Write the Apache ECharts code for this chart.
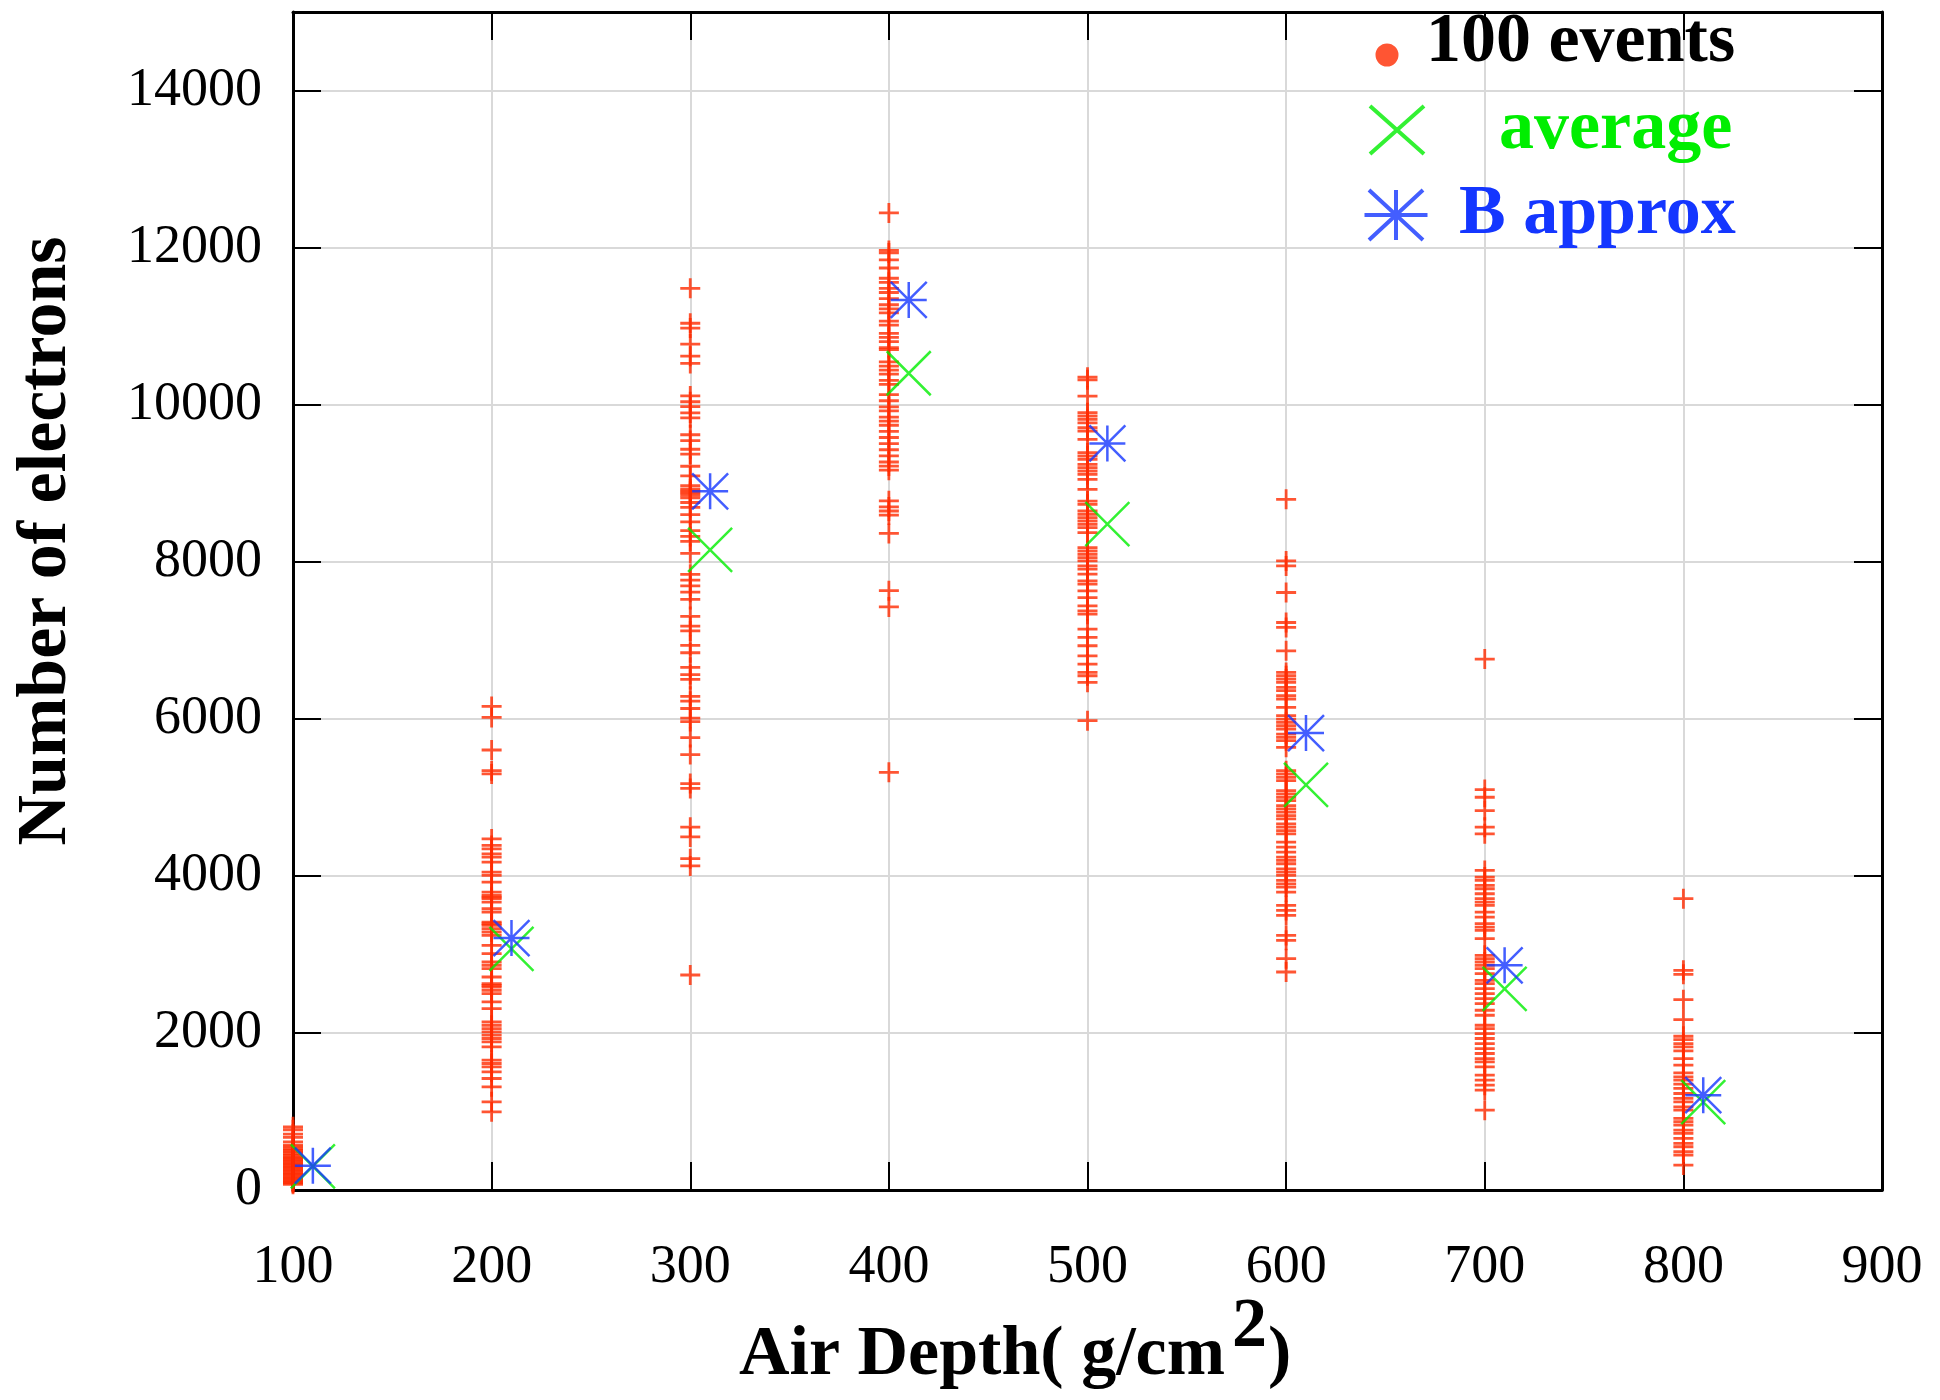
<!DOCTYPE html>
<html>
<head>
<meta charset="utf-8">
<script src="https://cdn.jsdelivr.net/npm/echarts@6/dist/echarts.min.js"></script>
<style>
  html, body { margin: 0; padding: 0; background: #fff; }
  #chart { width: 1940px; height: 1400px; }
</style>
</head>
<body>
<div id="chart"></div>
<script>
// ---------------- data ----------------
const depths = [100, 200, 300, 400, 500, 600, 700, 800];

const events100 = [805, 767, 712, 670, 614, 572, 548, 524, 505, 486, 462, 441, 420, 402, 385, 366, 348, 330, 312, 295, 276, 258, 240, 222, 205, 188, 170, 152, 135, 118, 102, 88, 72];
const events200 = [6158, 6018, 5603, 5340, 5298, 4471, 4387, 4344, 4281, 4238, 4175, 4048, 4005, 3920, 3793, 3751, 3730, 3709, 3666, 3581, 3539, 3412, 3390, 3369, 3327, 3285, 3242, 3115, 3009, 2903, 2861, 2818, 2712, 2628, 2605, 2585, 2543, 2501, 2395, 2310, 2140, 2098, 2056, 2013, 1971, 1929, 1886, 1822, 1653, 1611, 1568, 1505, 1420, 1314, 1123, 996];
const events300 = [11481, 11037, 10975, 10771, 10617, 10525, 10111, 10037, 9975, 9895, 9833, 9617, 9543, 9432, 9371, 9216, 9093, 8970, 8926, 8900, 8877, 8850, 8815, 8754, 8692, 8599, 8507, 8396, 8322, 8260, 8106, 7840, 7767, 7692, 7612, 7520, 7304, 7180, 7119, 6934, 6841, 6656, 6563, 6502, 6286, 6224, 6131, 6008, 5965, 5761, 5545, 5175, 5113, 4620, 4496, 4219, 4126, 2738];
const events400 = [12442, 11964, 11932, 11844, 11740, 11610, 11558, 11480, 11428, 11350, 11272, 11220, 11168, 11064, 11012, 10908, 10856, 10804, 10726, 10700, 10544, 10492, 10440, 10388, 10310, 10258, 10128, 10050, 9972, 9920, 9842, 9790, 9738, 9660, 9582, 9504, 9426, 9348, 9270, 9218, 9166, 8776, 8698, 8646, 8594, 8360, 7632, 7424, 5318];
const events500 = [10350, 10316, 10108, 9897, 9854, 9812, 9769, 9706, 9663, 9557, 9388, 9346, 9303, 9240, 9197, 9155, 9112, 9049, 8922, 8773, 8731, 8646, 8604, 8561, 8519, 8477, 8434, 8371, 8180, 8138, 8095, 8053, 8011, 7947, 7905, 7841, 7756, 7714, 7629, 7544, 7438, 7375, 7332, 7142, 7036, 6930, 6802, 6697, 6591, 6548, 6464, 5976];
const events600 = [8795, 8010, 7947, 7608, 7226, 7163, 6866, 6591, 6548, 6506, 6464, 6400, 6358, 6294, 6252, 6146, 6040, 5997, 5955, 5912, 5870, 5806, 5764, 5722, 5637, 5340, 5298, 5256, 5213, 5086, 5044, 5001, 4959, 4895, 4853, 4811, 4768, 4726, 4662, 4620, 4577, 4535, 4429, 4366, 4302, 4238, 4196, 4154, 4090, 4048, 4005, 3942, 3899, 3857, 3793, 3624, 3560, 3497, 3242, 3179, 2946, 2776];
const events700 = [6760, 5099, 5001, 4832, 4620, 4535, 4069, 3984, 3942, 3878, 3836, 3772, 3709, 3666, 3624, 3539, 3475, 3391, 3348, 3306, 3200, 2988, 2946, 2903, 2861, 2818, 2755, 2670, 2628, 2564, 2501, 2437, 2374, 2289, 2225, 2098, 2056, 1992, 1929, 1865, 1801, 1738, 1674, 1632, 1568, 1462, 1399, 1335, 1272, 1017];
const events800 = [3709, 2797, 2746, 2424, 2170, 1958, 1916, 1865, 1822, 1771, 1674, 1589, 1492, 1441, 1399, 1348, 1293, 1229, 1166, 1123, 1059, 1017, 911, 869, 826, 763, 721, 657, 594, 551, 487, 445, 318];
const eventsByDepth = [events100, events200, events300, events400, events500, events600, events700, events800];

const markDepths = [110, 210, 310, 410, 510, 610, 710, 810];
const averageValues = [300, 3070, 8150, 10400, 8480, 5160, 2560, 1120];
const bApproxValues = [309, 3208, 8896, 11334, 9507, 5819, 2861, 1208];

const seriesNames = ['100 events', 'average', 'B approx'];
const xAxisTitleParts = ['Air Depth( g/cm', '2', ')'];
const yAxisTitle = 'Number of electrons';

// ---------------- styling ----------------
const F = "'Liberation Serif','Times New Roman',Times,serif";
const RED = '#ff2a00', GREEN = '#00ee00', BLUE = '#1436ff';
const GRIDC = '#d9d9d9';

const PLUS = 'path://M10 0 L10 20 M0 10 L20 10';
const CROSS = 'path://M0 0 L44 44 M44 0 L0 44';
const STAR = 'path://M18 0 L18 36 M0 18 L36 18 M0 0 L36 36 M36 0 L0 36';
const DOT_LEG = 'path://M11.5 0 L11.6 0 M0 35.5 A11.5 11.5 0 1 1 23 35.5 A11.5 11.5 0 1 1 0 35.5 Z';
const CROSS_LEG = 'path://M0 0 L54 48 M54 0 L0 48';
const STAR_LEG = 'path://M31.5 0 L31.5 50 M0 25 L63 25 M4.5 0 L58.5 50 M4.5 50 L58.5 0';

const eventData = [];
depths.forEach((d, i) => eventsByDepth[i].forEach(v => eventData.push([d, v])));
const avgData = markDepths.map((d, i) => [d, averageValues[i]]);
const bData = markDepths.map((d, i) => [d, bApproxValues[i]]);

const chart = echarts.init(document.getElementById('chart'), null, { renderer: 'canvas' });

const frameAxisCommon = {
  axisLine: { show: true, onZero: false, lineStyle: { color: '#000', width: 3 } },
  axisTick: { show: true, inside: true, length: 28, lineStyle: { color: '#000', width: 2 } }
};

const titleFont = { fontFamily: F, fontWeight: 'bold', fontSize: 70, fill: '#000', align: 'left', verticalAlign: 'middle' };

const option = {
  animation: false,
  backgroundColor: '#fff',
  grid: { left: 293, right: 58, top: 12, bottom: 210, containLabel: false, outerBoundsMode: 'none' },
  graphic: [
    { type: 'text', x: 739, y: 1356, silent: true, style: Object.assign({ text: xAxisTitleParts[0] }, titleFont) },
    { type: 'text', x: 1232, y: 1328, silent: true, style: Object.assign({ text: xAxisTitleParts[1] }, titleFont) },
    { type: 'text', x: 1268, y: 1356, silent: true, style: Object.assign({ text: xAxisTitleParts[2] }, titleFont) }
  ],
  xAxis: [
    Object.assign({
      type: 'value', min: 100, max: 900, interval: 100, position: 'bottom',
      axisLabel: { margin: 51, fontFamily: F, fontSize: 54, color: '#000' },
      splitLine: { show: true, lineStyle: { color: GRIDC, width: 2 } }
    }, frameAxisCommon),
    Object.assign({
      type: 'value', min: 100, max: 900, interval: 100, position: 'top',
      axisLabel: { show: false }, splitLine: { show: false }
    }, frameAxisCommon)
  ],
  yAxis: [
    Object.assign({
      type: 'value', min: 0, max: 15000, interval: 2000, position: 'left',
      axisLabel: { margin: 31, fontFamily: F, fontSize: 54, color: '#000', showMaxLabel: false, padding: [0, 0, 12, 0],
                   formatter: v => String(v) },
      splitLine: { show: true, lineStyle: { color: GRIDC, width: 2 } },
      name: yAxisTitle, nameLocation: 'middle', nameGap: 211, nameMoveOverlap: false,
      nameTextStyle: { fontFamily: F, fontWeight: 'bold', fontSize: 70, color: '#000', padding: [0, 0, 0, 120] }
    }, frameAxisCommon),
    Object.assign({
      type: 'value', min: 0, max: 15000, interval: 2000, position: 'right',
      axisLabel: { show: false }, splitLine: { show: false }
    }, frameAxisCommon)
  ],
  legend: [
    {
      left: 1375.5, top: 8, padding: 0, orient: 'vertical', selectedMode: false,
      itemWidth: 68, itemHeight: 47,
      textStyle: { fontFamily: F, fontWeight: 'bold', fontSize: 70, color: '#000' },
      data: [{ name: seriesNames[0], icon: DOT_LEG, itemStyle: { color: RED, borderWidth: 0 } }]
    },
    {
      left: 1368, top: 95, padding: 0, orient: 'vertical', selectedMode: false,
      itemWidth: 194, itemHeight: 48,
      textStyle: { fontFamily: F, fontWeight: 'bold', fontSize: 70, color: GREEN },
      data: [{ name: seriesNames[1], icon: CROSS_LEG, itemStyle: { color: 'transparent', borderColor: GREEN, borderWidth: 4 } }]
    },
    {
      left: 1362.5, top: 180, padding: 0, orient: 'vertical', selectedMode: false,
      itemWidth: 116, itemHeight: 50,
      textStyle: { fontFamily: F, fontWeight: 'bold', fontSize: 70, color: BLUE },
      data: [{ name: seriesNames[2], icon: STAR_LEG, itemStyle: { color: 'transparent', borderColor: BLUE, borderWidth: 4 } }]
    }
  ],
  series: [
    {
      name: seriesNames[0], type: 'scatter', data: eventData, clip: false, silent: true,
      symbol: PLUS, symbolSize: [20, 20],
      itemStyle: { color: 'transparent', borderColor: RED, borderWidth: 2.8 },
      z: 3
    },
    {
      name: seriesNames[1], type: 'scatter', data: avgData, clip: false, silent: true,
      symbol: CROSS, symbolSize: [44, 44],
      itemStyle: { color: 'transparent', borderColor: GREEN, borderWidth: 2.5 },
      z: 4
    },
    {
      name: seriesNames[2], type: 'scatter', data: bData, clip: false, silent: true,
      symbol: STAR, symbolSize: [36, 36],
      itemStyle: { color: 'transparent', borderColor: BLUE, borderWidth: 2.5 },
      z: 5
    }
  ]
};
chart.setOption(option);
</script>
</body>
</html>
